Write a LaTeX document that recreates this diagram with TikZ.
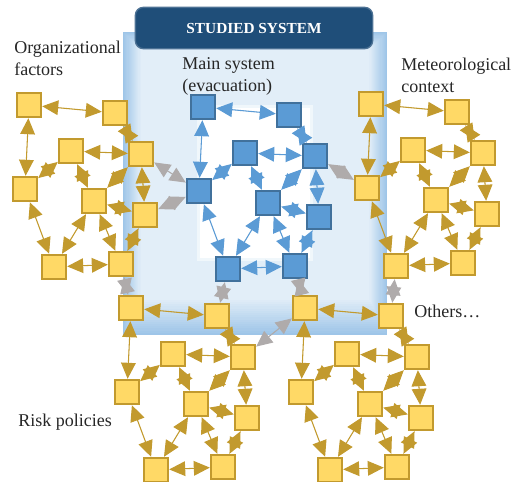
\documentclass[tikz,border=0pt]{standalone}
\usepackage{fontspec}
\setmainfont{Liberation Serif}
\usepackage{xcolor}
\usepackage{tikz}
\usetikzlibrary{arrows.meta,positioning}
\definecolor{gold}{HTML}{C29A2E}
\definecolor{goldfill}{HTML}{FFD966}
\definecolor{skyfill}{HTML}{5B9BD5}
\definecolor{skyline}{HTML}{41719C}
\definecolor{linkgray}{HTML}{AFABAB}
\definecolor{paneledge}{HTML}{9EC5E8}
\definecolor{panelin}{HTML}{E2EEF8}
\definecolor{headblue}{HTML}{1F4E79}

\begin{document}
\begin{tikzpicture}[x=0.75pt, y=-0.75pt,
    ybox/.style={rectangle, draw=gold, fill=goldfill, line width=1.8pt, minimum size=18pt, inner sep=0pt},
    bbox/.style={rectangle, draw=skyline, fill=skyfill, line width=1.8pt, minimum size=18pt, inner sep=0pt},
    link/.style={line width=0.8pt, {Triangle[length=12pt,width=11pt]}-{Triangle[length=12pt,width=11pt]}},
    ylink/.style={link, draw=gold, fill=gold},
    blink/.style={link, draw=skyfill, fill=skyfill},
    glink/.style={link, draw=linkgray, fill=linkgray},
    header/.style={rectangle, rounded corners=6pt, draw=headblue!80!white, fill=headblue, line width=1pt, minimum width=178pt, minimum height=31pt, text=white, font=\fontsize{11.5}{13}\selectfont\bfseries},
    label/.style={anchor=north west, align=left, inner sep=0pt, text=black!85, font=\fontsize{13.5}{16.5}\selectfont}
]
    \useasboundingbox (0,0) rectangle (518,482);

    % Studied system panel
    \foreach \k in {0,...,16} {
        \pgfmathsetmacro\mix{100-\k*6.25}
        \fill[paneledge!\mix!panelin] (123+1.1*\k,32+1.1*\k) rectangle (387-1.1*\k,335-2.2*\k);
    }
    \fill[panelin!50!white] (197,105) rectangle (313,261);
    \fill[white] (200,108) rectangle (310,258);
    \node[header] (hdr) at (254,28) {STUDIED SYSTEM};

    % Clusters
    \foreach \p/\dx/\dy/\s in {org/0/0/ybox, main/174/2/bbox, met/342/-1/ybox, risk/102/203/ybox, oth/276/203/ybox} {
        \foreach \n/\x/\y in {1/29/105, 2/115/113, 3/71/151, 4/141/154, 5/25/189, 6/94/201, 7/145/215, 8/54/267, 9/121/264}
            \node[\s] (\p\n) at (\x+\dx,\y+\dy) {};
    }
    \foreach \p/\s in {org/ylink, main/blink, met/ylink, risk/ylink, oth/ylink} {
        \foreach \a/\b in {1/2, 1/5, 2/4, 3/4, 3/5, 3/6, 4/6, 4/7, 6/7, 5/8, 6/8, 6/9, 8/9, 7/9}
            \draw[\s] (\p\a) -- (\p\b);
    }

    % Links between clusters
    \draw[glink] (org4) -- (main5);
    \draw[glink] (org7) -- (main5);
    \draw[glink] (main4) -- (met5);
    \draw[glink] (org9) -- (risk1);
    \draw[glink] (main8) -- (risk2);
    \draw[glink] (main9) -- (oth1);
    \draw[glink] (met8) -- (oth2);
    \draw[glink] (risk4) -- (oth1);

    % Labels
    \node[label] (lorg) at (14,41) {Organizational\\factors};
    \node[label] (lmain) at (182,57) {Main system\\(evacuation)};
    \node[label] (lmet) at (401,58) {Meteorological\\context};
    \node[label] (loth) at (414,305) {Others…};
    \node[label] (lrisk) at (18,414) {Risk policies};
\end{tikzpicture}
\end{document}
